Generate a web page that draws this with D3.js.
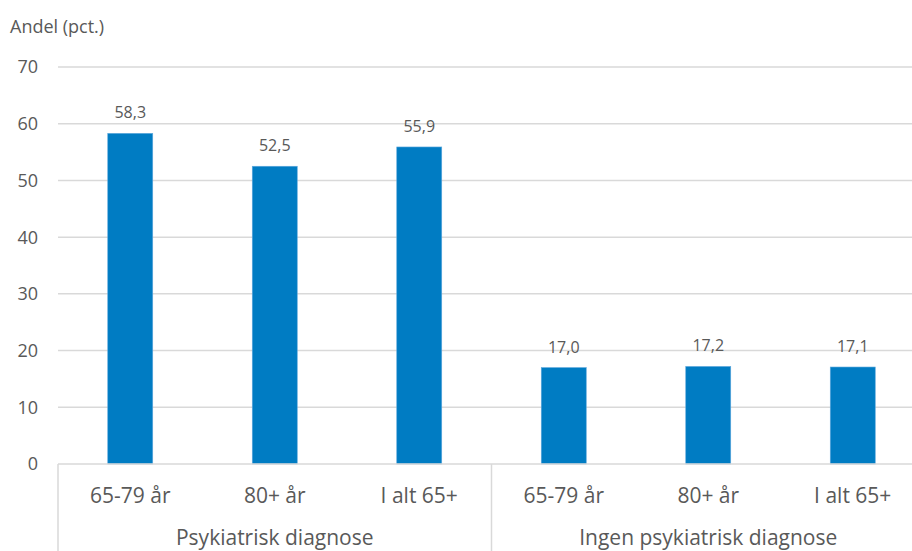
<!DOCTYPE html>
<html>
<head>
<meta charset="utf-8">
<script src="https://cdn.jsdelivr.net/npm/d3@7"></script>
<style>
  html, body { margin: 0; padding: 0; background: #fff; }
  svg { display: block; }
  text { font-family: "Open Sans", "Liberation Sans", sans-serif; fill: #595959; }
</style>
</head>
<body>
<svg id="chart" width="912" height="551"></svg>
<script>
// Share (pct.) by age group, with and without a psychiatric diagnosis
const groups = ["Psykiatrisk diagnose", "Ingen psykiatrisk diagnose"];
const ageGroups = ["65-79 år", "80+ år", "I alt 65+"];
const valuesPsyk = [58.3, 52.5, 55.9];
const valuesIngen = [17.0, 17.2, 17.1];
const yTicks = [0, 10, 20, 30, 40, 50, 60, 70];
const yLabel = "Andel (pct.)";

const rows = [];
groups.forEach((g, gi) => {
  const vals = gi === 0 ? valuesPsyk : valuesIngen;
  ageGroups.forEach((a, ai) => rows.push({ key: g + "|" + a, group: g, age: a, value: vals[ai] }));
});

const svg = d3.select("#chart");
const plotLeft = 58, plotRight = 925, plotTop = 67, plotBottom = 464;
const grid = "#d9d9d9";

const x = d3.scaleBand().domain(rows.map(d => d.key)).range([plotLeft, plotRight]).paddingInner(0).paddingOuter(0);
const y = d3.scaleLinear().domain([0, 70]).range([plotBottom, plotTop]);
const fmt = v => d3.format(".1f")(v).replace(".", ",");

// horizontal gridlines
svg.append("g").selectAll("line").data(yTicks.filter(t => t > 0)).join("line")
  .attr("x1", plotLeft).attr("x2", 912)
  .attr("y1", d => y(d)).attr("y2", d => y(d))
  .attr("stroke", grid).attr("stroke-width", 1.5);

// y tick labels
svg.append("g").selectAll("text").data(yTicks).join("text")
  .attr("x", 38).attr("y", d => y(d)).attr("dy", "0.36em")
  .attr("text-anchor", "end").attr("font-size", 18)
  .text(d => d);

svg.append("text").attr("x", 10).attr("y", 33).attr("font-size", 18).text(yLabel);

// bars
const barW = 45;
svg.append("g").selectAll("rect").data(rows).join("rect")
  .attr("x", d => x(d.key) + x.bandwidth() / 2 - barW / 2)
  .attr("width", barW)
  .attr("y", d => y(d.value))
  .attr("height", d => y(0) - y(d.value))
  .attr("fill", "#007CC3")
  .attr("stroke", "#5fa8dc").attr("stroke-width", 0.6);

// value labels
svg.append("g").selectAll("text").data(rows).join("text")
  .attr("x", d => x(d.key) + x.bandwidth() / 2)
  .attr("y", d => y(d.value) - 15)
  .attr("text-anchor", "middle").attr("font-size", 16)
  .text(d => fmt(d.value));

// category axis line
svg.append("line").attr("x1", plotLeft).attr("x2", 912).attr("y1", plotBottom).attr("y2", plotBottom)
  .attr("stroke", grid).attr("stroke-width", 1.5);

// group separators
const sepX = [plotLeft, x(rows[3].key), plotRight];
svg.append("g").selectAll("line").data(sepX).join("line")
  .attr("x1", d => d).attr("x2", d => d).attr("y1", plotBottom).attr("y2", 551)
  .attr("stroke", grid).attr("stroke-width", 1.5);

// age labels
svg.append("g").selectAll("text").data(rows).join("text")
  .attr("x", d => x(d.key) + x.bandwidth() / 2)
  .attr("y", 503)
  .attr("text-anchor", "middle").attr("font-size", 21)
  .text(d => d.age);

// group labels
svg.append("g").selectAll("text").data(groups).join("text")
  .attr("x", (g, gi) => (x(rows[gi * 3].key) + x(rows[gi * 3 + 2].key) + x.bandwidth()) / 2)
  .attr("y", 545)
  .attr("text-anchor", "middle").attr("font-size", 21)
  .text(d => d);
</script>
</body>
</html>
